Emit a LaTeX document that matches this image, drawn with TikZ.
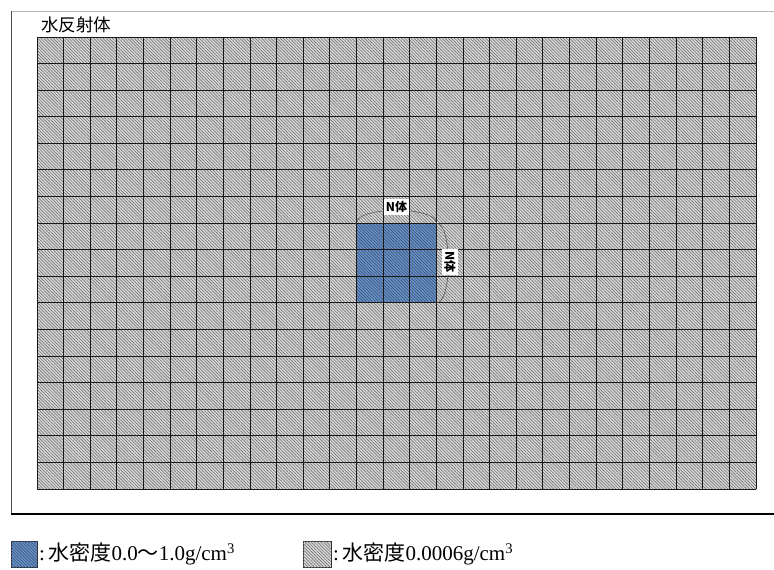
\documentclass[tikz,border=0pt]{standalone}
\usepackage{fontspec}
\setmainfont{Liberation Serif}
\newfontfamily\cjk{Noto Sans CJK JP}
\usetikzlibrary{patterns.meta}
\definecolor{bluecell}{RGB}{108,145,195}
\definecolor{bluehatch}{RGB}{55,85,135}
\tikzset{
 hatchgray/.style={fill=gray!28, postaction={pattern={Lines[angle=-45,distance=2.2pt,line width=0.65pt]}, pattern color=gray!90!black}},
 hatchblue/.style={fill=bluecell, postaction={pattern={Lines[angle=-45,distance=2.2pt,line width=0.65pt]}, pattern color=bluehatch}},
 gridline/.style={line width=1pt, black!90},
 lbl/.style={fill=white, inner sep=2pt, font=\cjk\bfseries\fontsize{12}{12}\selectfont},
 brace/.style={gray!70!black, line width=0.6pt},
 legendtext/.style={font=\fontsize{21}{21}\selectfont, anchor=west, inner sep=0pt},
 legendbox/.style={draw=gray!40!black, line width=0.6pt}
}
\begin{document}
\begin{tikzpicture}[x=1pt,y=-1pt]
\useasboundingbox (0,0) rectangle (774,570);
% outer frame
\draw[gray!55, line width=1pt] (11,11) -- (774,11);
\draw[gray!60!black, line width=1pt] (11,11) -- (11,514);
\draw[black, line width=1.6pt] (11,514) -- (774,514);
\node[anchor=south west, inner sep=0pt, font=\cjk\fontsize{17.5}{17.5}\selectfont] (title) at (41,33) {水反射体};
% grid fill
\path[hatchgray] (37,37) rectangle (756,489);
\coordinate (cTL) at (356.6,223.1);
\coordinate (cTR) at (436.4,223.1);
\coordinate (cBR) at (436.4,302.9);
\path[hatchblue] (cTL) rectangle (cBR);
% grid lines
\foreach \i in {0,...,27} \draw[gridline] ({37+\i*26.63},37) -- ({37+\i*26.63},489);
\foreach \j in {0,...,17} \draw[gridline] (37,{37+\j*26.59}) -- (756,{37+\j*26.59});
% braces and labels
\draw[brace] (cTL) .. controls +(0,-17) and +(0,-17) .. (cTR);
\draw[brace] (cTR) .. controls +(16,0) and +(16,0) .. (cBR);
\node[lbl] (ltop) at (396.5,207) {N体};
\node[lbl, rotate=-90] (lright) at (450,262) {N体};
% legend
\path[hatchblue, legendbox] (11,541) rectangle (37,567);
\node[legendtext] (leg1) at (39,554) {:\,\cjk 水密度\rmfamily 0.0\cjk ～\rmfamily 1.0g/cm\textsuperscript{3}};
\path[hatchgray, legendbox] (303,541) rectangle (331,567);
\node[legendtext] (leg2) at (333,554) {:\,\cjk 水密度\rmfamily 0.0006g/cm\textsuperscript{3}};
\end{tikzpicture}
\end{document}
